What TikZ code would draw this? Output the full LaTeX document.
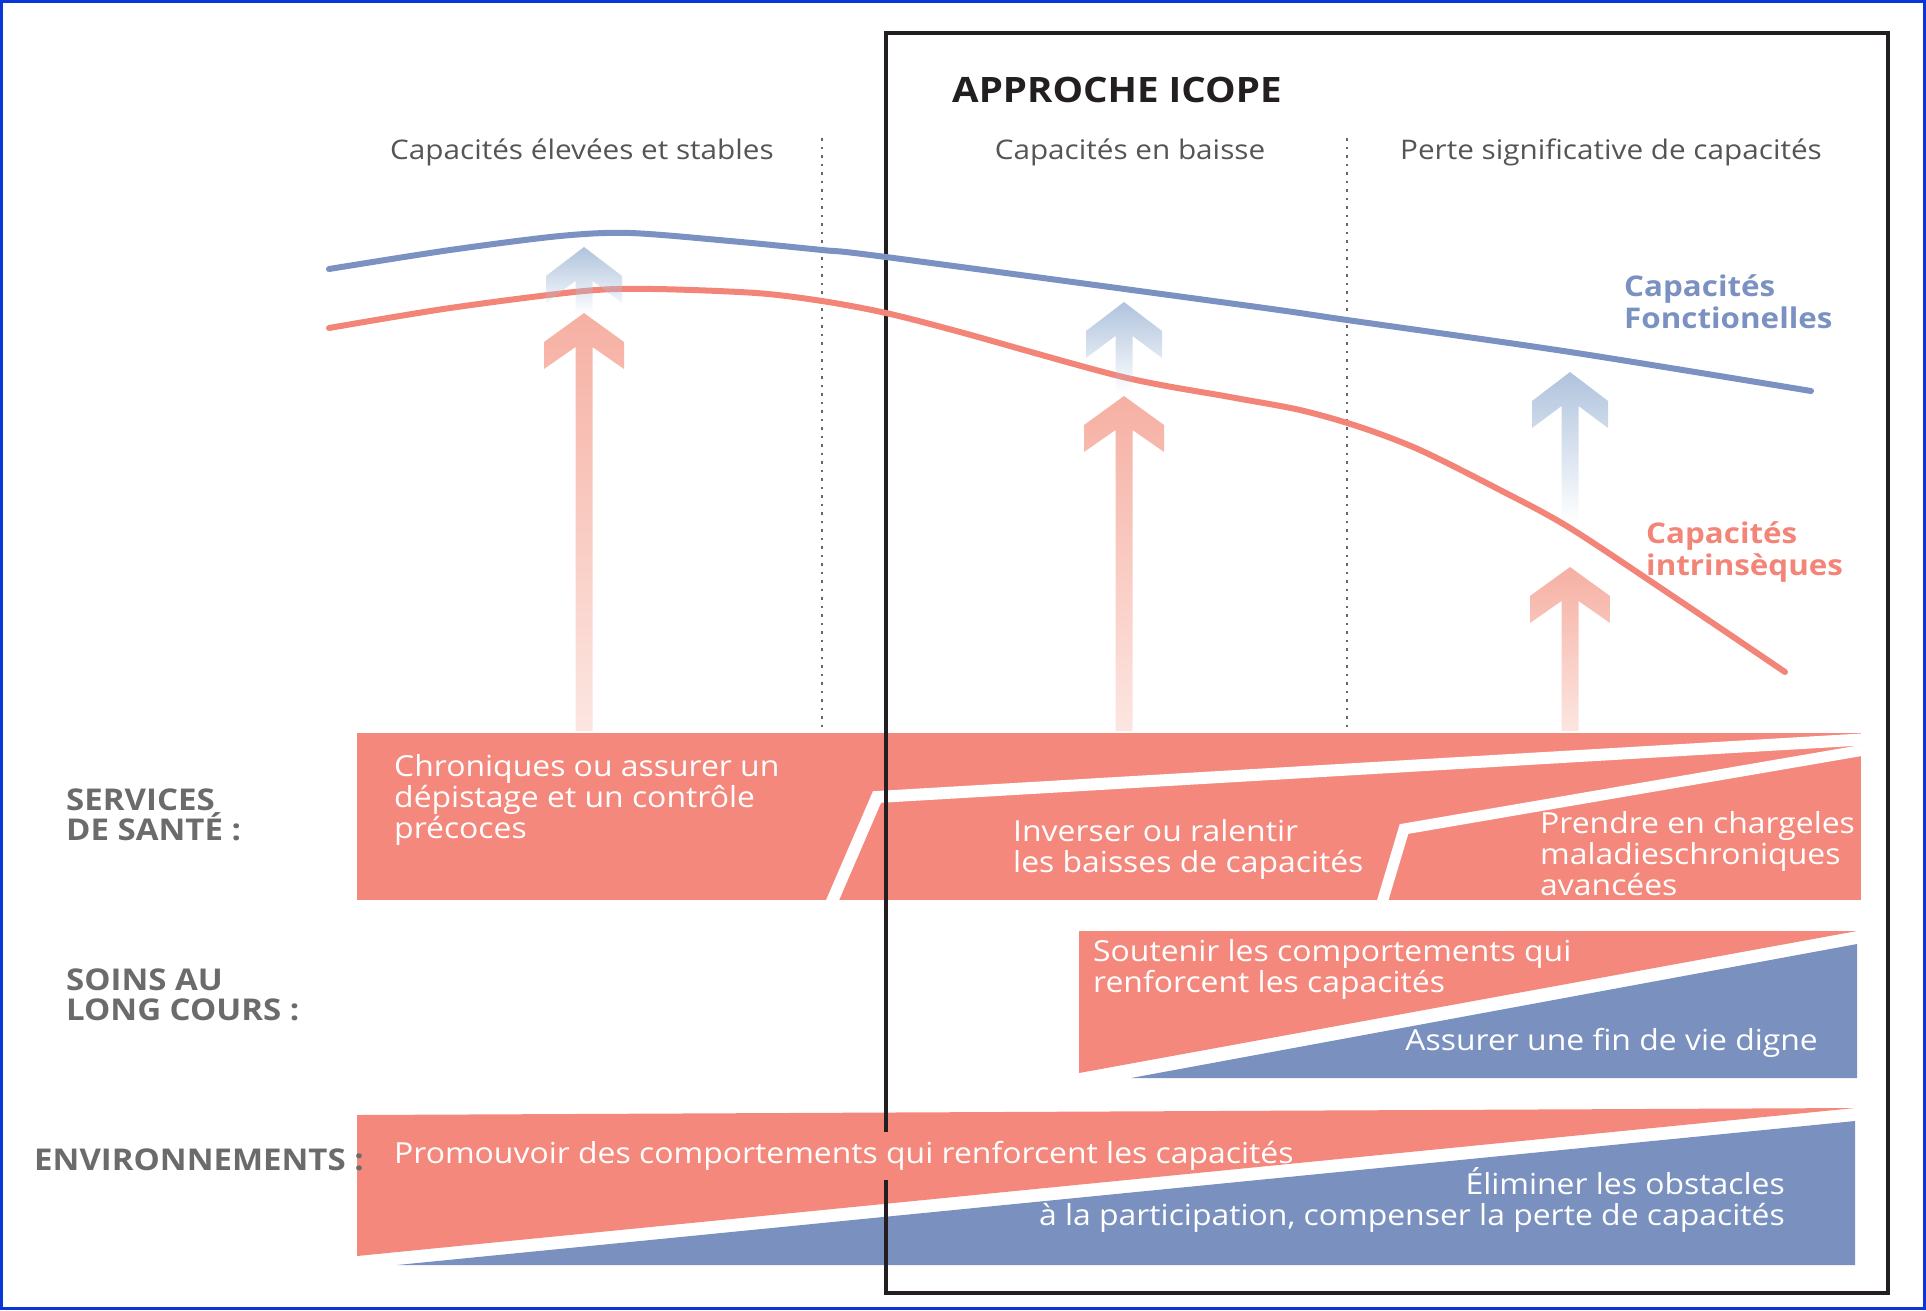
\documentclass[tikz,border=0pt]{standalone}
\usepackage{fontspec}
\setmainfont[FakeStretch=1.1]{Open Sans}
\usetikzlibrary{fadings}
\definecolor{salmon}{HTML}{F4887C}
\definecolor{bluefill}{HTML}{7A91C0}
\definecolor{curveblue}{HTML}{7A91C1}
\definecolor{curvered}{HTML}{F38478}
\definecolor{redhead}{HTML}{F6B0A3}
\definecolor{redpale}{HTML}{FCE6E1}
\definecolor{bluehead}{HTML}{AFC3DD}
\definecolor{gridgray}{HTML}{666666}
\definecolor{labelgray}{HTML}{6B6B6B}
\definecolor{headgray}{HTML}{555555}
\definecolor{framedark}{HTML}{231F20}
\definecolor{borderblue}{HTML}{0A36D8}
\tikzfading[name=fade down, top color=transparent!0, middle color=transparent!25, bottom color=transparent!100]

\begin{document}
\begin{tikzpicture}[x=1pt, y=-1pt,
  frame/.style={draw=framedark, line width=3.5pt},
  curveline/.style={line width=6pt, line cap=round},
  divider/.style={draw=gridgray, line width=2.5pt, dash pattern=on 2.5pt off 6pt},
  stripe/.style={draw=white, line width=12pt, line join=miter},
  boxtext/.style={text=white, font=\fontsize{29}{31}\selectfont, inner sep=0pt, align=left},
  rowlabel/.style={text=labelgray, font=\fontsize{30}{30}\selectfont\bfseries, inner sep=0pt, align=left, anchor=base west},
  colhead/.style={text=headgray, font=\fontsize{27}{30}\selectfont, inner sep=0pt, anchor=base},
  curvelabel/.style={font=\fontsize{28.5}{32}\selectfont\bfseries, inner sep=0pt, align=left, anchor=base west},
]
  \useasboundingbox (0,0) rectangle (1926,1310);
  \draw[borderblue, line width=3pt] (1.5,1.5) rectangle (1924.5,1308.5);

  \fill[salmon] (357,733) rectangle (1861,900);
  \begin{scope}
    \clip (357,733) rectangle (1861,900);
    \draw[stripe] (830,906) -- (877,797) -- (1870,739);
    \draw[stripe, line width=11pt] (1381,906) -- (1404,829) -- (1870,749);
  \end{scope}
  \fill[salmon] (1079,931) -- (1857,931) -- (1079,1073) -- cycle;
  \fill[bluefill] (1857,944) -- (1857,1078) -- (1131,1078) -- cycle;
  \fill[salmon] (357,1115) -- (1855,1108) -- (357,1256) -- cycle;
  \fill[bluefill] (1855,1121) -- (1855,1265) -- (397,1265) -- cycle;

  \draw[divider] (822,138) -- (822,731);
  \draw[divider] (1347,138) -- (1347,731);
  \draw[frame] (886,1132) -- (886,33) -- (1888,33) -- (1888,1293) -- (886,1293) -- (886,1180);

  \draw[curveline, curveblue] plot[smooth] coordinates {(329,269) (450,250) (560,236) (630,233) (730,241) (822,250) (886,257) (1250,306) (1347,320) (1570,352) (1811,391)};
  \draw[curveline, curvered] plot[smooth] coordinates {(329,328) (450,308) (584,291) (654,289) (756,293) (822,301) (886,313) (960,332) (1123,377) (1230,397) (1300,410) (1360,427) (1420,450) (1500,490) (1570,528) (1680,601) (1785,672)};

  \foreach \x/\tip/\bot in {584/313/731, 1124/396/731, 1570/567/731}
    \shade[top color=redhead, bottom color=redpale] (\x,\tip) -- ++(40,29) -- ++(0,27) -- (\x+8.5,\tip+34) -- (\x+8.5,\bot) -- (\x-8.5,\bot) -- (\x-8.5,\tip+34) -- (\x-40,\tip+56) -- ++(0,-27) -- cycle;
  \foreach \x/\tip/\bot in {584/247/314, 1124/302/393, 1570/372/522}
    \fill[bluehead, path fading=fade down] (\x,\tip) -- ++(38,29) -- ++(0,27) -- (\x+8.5,\tip+34) -- (\x+8.5,\bot) -- (\x-8.5,\bot) -- (\x-8.5,\tip+34) -- (\x-38,\tip+56) -- ++(0,-27) -- cycle;

  \node[anchor=base west, inner sep=0pt, text=framedark, font=\fontsize{35}{40}\selectfont\bfseries] (title) at (952,102) {APPROCHE ICOPE};
  \node[colhead] (stable) at (582,159) {Capacités élevées et stables};
  \node[colhead] (baisse) at (1130,159) {Capacités en baisse};
  \node[colhead] (perte) at (1611,159) {Perte significative de capacités};
  \node[curvelabel, text=curveblue] (fonc) at (1624,328) {Capacités\\Fonctionelles};
  \node[curvelabel, text=curvered] (intr) at (1646,575) {Capacités\\intrinsèques};

  \node[rowlabel] (sante) at (66,840) {SERVICES\\DE SANTÉ :};
  \node[rowlabel] (soins) at (66,1020) {SOINS AU\\LONG COURS :};
  \node[rowlabel] (env) at (34,1170) {ENVIRONNEMENTS :};

  \node[boxtext, anchor=base west] (chron) at (394,838) {Chroniques ou assurer un\\dépistage et un contrôle\\précoces};
  \node[boxtext, anchor=base west] (inv) at (1013,872) {Inverser ou ralentir\\les baisses de capacités};
  \node[boxtext, anchor=base west] (prendre) at (1540,895) {Prendre en chargeles\\maladieschroniques\\avancées};
  \node[boxtext, anchor=base west] (soutenir) at (1093,992) {Soutenir les comportements qui\\renforcent les capacités};
  \node[boxtext, anchor=base east] (fin) at (1818,1050) {Assurer une fin de vie digne};
  \node[boxtext, anchor=base west] (promo) at (394,1163) {Promouvoir des comportements qui renforcent les capacités};
  \node[boxtext, anchor=base east, align=right] (elim) at (1785,1225) {Éliminer les obstacles\\à la participation, compenser la perte de capacités};
\end{tikzpicture}
\end{document}
